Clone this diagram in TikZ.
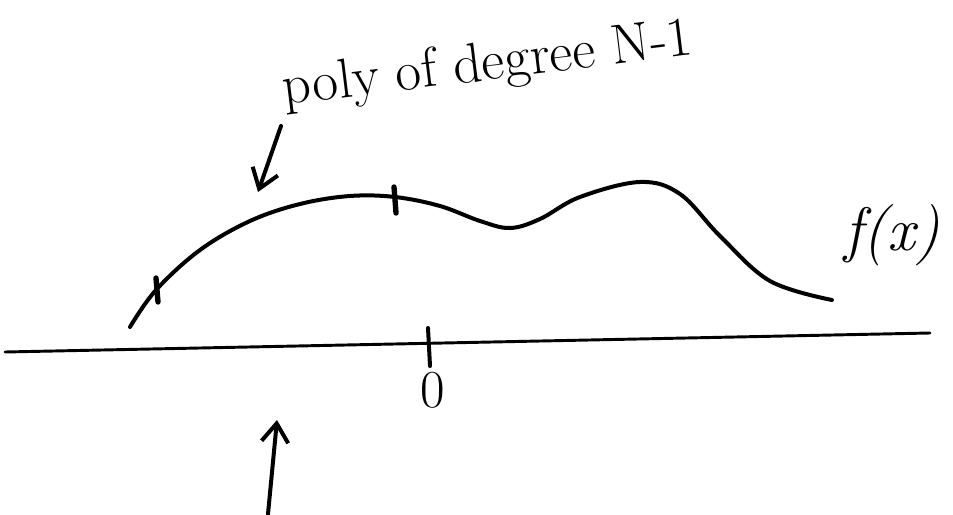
\documentclass[tikz,border=0pt]{standalone}
\usepackage{fontspec}
\usetikzlibrary{arrows.meta}

\tikzset{every picture/.style={line width=3pt}}
\tikzset{
  pen/.style={line width=3pt, line cap=round, line join=round},
  barb/.style={pen, -{Straight Barb[length=14pt,width=20pt,line width=3pt]}},
}

\begin{document}
\begin{tikzpicture}[x=0.75pt,y=0.75pt,yscale=-1,xscale=1]
\useasboundingbox (0,0) rectangle (953,514);

%Axis
\coordinate (axL) at (5,352);
\coordinate (axR) at (930,333);
\draw [pen, line width=2.2pt] (axL) -- (axR) ;
%Tick at origin
\coordinate (t0a) at (428,328);
\coordinate (t0b) at (430,366);
\draw [pen] (t0a) -- (t0b) ;

%Curve f(x)
\draw [pen] plot [smooth, tension=0.6] coordinates {(130,327) (156,290) (200,250) (250,221) (300,204) (350,196) (395,197) (440,206) (480,221) (510,228) (540,219) (580,197) (640,182) (680,194) (720,236) (770,281) (832,300)};
%Ticks on curve
\coordinate (t1a) at (156,278);
\coordinate (t1b) at (158,302);
\draw [pen, line width=4pt] (t1a) -- (t1b) ;
\coordinate (t2a) at (394,187);
\coordinate (t2b) at (396,213);
\draw [pen, line width=4pt] (t2a) -- (t2b) ;

%Arrows
\coordinate (upS) at (281,126);
\coordinate (upE) at (258,192);
\draw [barb] (upS) -- (upE) ;
\coordinate (dnS) at (268,514);
\coordinate (dnE) at (277,420);
\draw [barb] (dnS) -- (dnE) ;

% Text Node
\node (poly) [rotate=7, inner sep=0.75pt] at (488,66) {\fontsize{42}{48}\selectfont poly of degree N-1};
% Text Node
\node (fx) [inner sep=0.75pt] at (892,235) {\fontsize{46}{52}\selectfont\itshape f(x)};
% Text Node
\node (zero) [inner sep=0.75pt] at (433,390) {\fontsize{40}{46}\selectfont 0};

\end{tikzpicture}
\end{document}
